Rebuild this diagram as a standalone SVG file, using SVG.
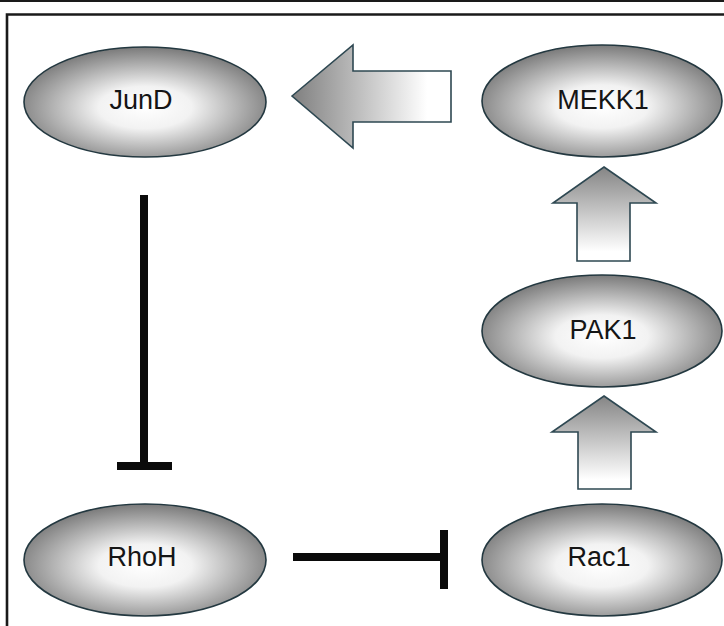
<svg xmlns="http://www.w3.org/2000/svg" width="724" height="626" viewBox="0 0 724 626">
<defs>
<radialGradient id="nodeGrad" cx="50%" cy="55%" r="55%">
<stop offset="0" stop-color="#ffffff"/>
<stop offset="0.35" stop-color="#f2f2f2"/>
<stop offset="1" stop-color="#7a7a7a"/>
</radialGradient>
<linearGradient id="gradLeft" x1="0" y1="0" x2="1" y2="0">
<stop offset="0" stop-color="#7f7f7f"/>
<stop offset="0.85" stop-color="#ffffff"/>
<stop offset="1" stop-color="#ffffff"/>
</linearGradient>
<linearGradient id="gradUp" x1="0" y1="0" x2="0" y2="1">
<stop offset="0" stop-color="#858585"/>
<stop offset="0.9" stop-color="#ffffff"/>
<stop offset="1" stop-color="#ffffff"/>
</linearGradient>
</defs>
<style>
.node ellipse { fill: url(#nodeGrad); stroke: #233840; stroke-width: 1.6; }
.node text { font-family: "Liberation Sans", Arial, sans-serif; font-size: 27px; fill: #151515; text-anchor: middle; dominant-baseline: central; }
.bigarrow { stroke: #2e4852; stroke-width: 1.6; stroke-linejoin: miter; }
.inhib { stroke: #0a0a0a; stroke-width: 8; fill: none; }
.frame { stroke: #1a1a1a; fill: none; }
</style>
<rect x="0" y="0" width="724" height="626" fill="#ffffff"/>
<line class="frame" x1="0" y1="1" x2="724" y2="1" stroke-width="2" stroke="#3a3a3a"/>
<polyline class="frame" points="7,626 7,14.5 724,14.5" stroke-width="2.6"/>

<g id="connectors">
<polygon class="bigarrow" fill="url(#gradLeft)" points="292,96 353,45 353,71 451,71 451,122 353,122 353,148"/>
<polygon class="bigarrow" fill="url(#gradUp)" points="604,167 656,203 630,203 630,261 577,261 577,203 553,203"/>
<polygon class="bigarrow" fill="url(#gradUp)" points="604,396 656,432 631,432 631,489 578,489 578,432 552,432"/>
<line class="inhib" x1="144" y1="195" x2="144" y2="466"/>
<line class="inhib" x1="117" y1="466" x2="172" y2="466"/>
<line class="inhib" x1="293" y1="557" x2="444" y2="557"/>
<line class="inhib" x1="444" y1="530" x2="444" y2="589"/>
</g>

<g id="JunD" class="node">
<ellipse cx="145" cy="102" rx="121" ry="55"/>
<text x="141" y="100">JunD</text>
</g>
<g id="MEKK1" class="node">
<ellipse cx="602" cy="101" rx="120" ry="56"/>
<text x="603" y="100">MEKK1</text>
</g>
<g id="PAK1" class="node">
<ellipse cx="602" cy="331" rx="120" ry="56"/>
<text x="603" y="330">PAK1</text>
</g>
<g id="Rac1" class="node">
<ellipse cx="602" cy="560" rx="120" ry="56"/>
<text x="599" y="557">Rac1</text>
</g>
<g id="RhoH" class="node">
<ellipse cx="145" cy="560" rx="121" ry="56"/>
<text x="142" y="557">RhoH</text>
</g>
</svg>
